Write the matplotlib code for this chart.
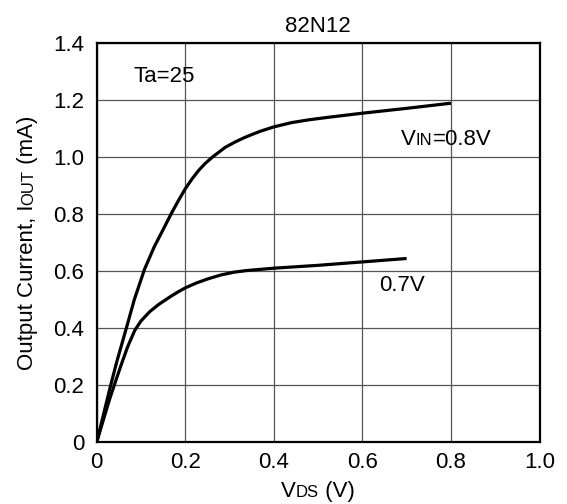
import matplotlib
matplotlib.use('Agg')
import matplotlib.pyplot as plt

plt.rcParams['font.family'] = ['Liberation Sans', 'DejaVu Sans']

# data
vds_08 = [0, 0.015, 0.03, 0.045, 0.067, 0.085, 0.108, 0.13, 0.15, 0.168, 0.185, 0.2,
          0.215, 0.23, 0.245, 0.262, 0.29, 0.31, 0.33, 0.35, 0.37, 0.4, 0.44, 0.48,
          0.52, 0.6, 0.7, 0.8]
iout_08 = [0, 0.095, 0.19, 0.28, 0.40, 0.50, 0.606, 0.685, 0.745, 0.80, 0.848, 0.888,
           0.922, 0.952, 0.977, 1.0, 1.033, 1.05, 1.065, 1.078, 1.09, 1.105, 1.12, 1.13,
           1.138, 1.153, 1.17, 1.188]

vds_07 = [0, 0.01, 0.02, 0.03, 0.041, 0.055, 0.07, 0.086, 0.1, 0.12, 0.14, 0.168, 0.185,
          0.2, 0.225, 0.25, 0.28, 0.31, 0.34, 0.37, 0.4, 0.5, 0.6, 0.7]
iout_07 = [0, 0.052, 0.104, 0.155, 0.206, 0.27, 0.335, 0.392, 0.425, 0.458, 0.483,
           0.512, 0.528, 0.541, 0.558, 0.572, 0.586, 0.596, 0.602, 0.606, 0.61, 0.62,
           0.632, 0.644]

x_ticks = [0, 0.2, 0.4, 0.6, 0.8, 1.0]
x_labels = ['0', '0.2', '0.4', '0.6', '0.8', '1.0']
y_ticks = [0, 0.2, 0.4, 0.6, 0.8, 1.0, 1.2, 1.4]
y_labels = ['0', '0.2', '0.4', '0.6', '0.8', '1.0', '1.2', '1.4']

FS = 16
SMALL = 12


def rich_text(fig, x_px, y_px, pieces, rotation=0, center=False):
    # place pieces of text of different size one after the other, on one baseline
    renderer = fig.canvas.get_renderer()
    W, H = fig.bbox.width, fig.bbox.height
    objs = [fig.text(0, 0, s, fontsize=fs, ha='left', va='baseline',
                     rotation_mode='anchor') for s, fs in pieces]
    widths = [t.get_window_extent(renderer).width for t in objs]
    off = -sum(widths) / 2 if center else 0
    for t, w in zip(objs, widths):
        t.set_rotation(rotation)
        if rotation == 90:
            t.set_position((x_px / W, (y_px + off) / H))
        else:
            t.set_position(((x_px + off) / W, y_px / H))
        off += w


fig = plt.figure(figsize=(5.67, 5.04), dpi=100)
ax = fig.add_axes([0.1705, 0.1224, 0.781, 0.7929])

for xs, ys in [(vds_08, iout_08), (vds_07, iout_07)]:
    ax.plot(xs, ys, color='black', lw=2.3, solid_capstyle='butt', solid_joinstyle='round')

ax.set_xlim(0, 1.0)
ax.set_ylim(0, 1.4)
ax.set_xticks(x_ticks, x_labels)
ax.set_yticks(y_ticks, y_labels)
ax.tick_params(length=0, labelsize=FS)
ax.tick_params(axis='x', pad=7)
ax.tick_params(axis='y', pad=9)
ax.grid(True, color='#555555', lw=0.9)
ax.set_axisbelow(True)
for sp in ax.spines.values():
    sp.set_linewidth(1.6)

ax.set_title('82N12', fontsize=FS, pad=8)

ax.text(0.083, 1.263, 'Ta=25', fontsize=FS, va='baseline')
ax.text(0.637, 0.53, '0.7V', fontsize=FS, va='baseline')

# VIN=0.8V label
px, py = ax.transData.transform((0.687, 1.042))
rich_text(fig, px, py, [('V', FS), ('IN', SMALL), ('=0.8V', FS)])

# axis labels with small subscripts
rich_text(fig, 318, 7, [('V', FS), ('DS', SMALL), (' (V)', FS)], center=True)
rich_text(fig, 33, 261, [('Output Current, I', FS), ('OUT', SMALL), (' (mA)', FS)],
          rotation=90, center=True)

fig.savefig('out.png', dpi=100)
